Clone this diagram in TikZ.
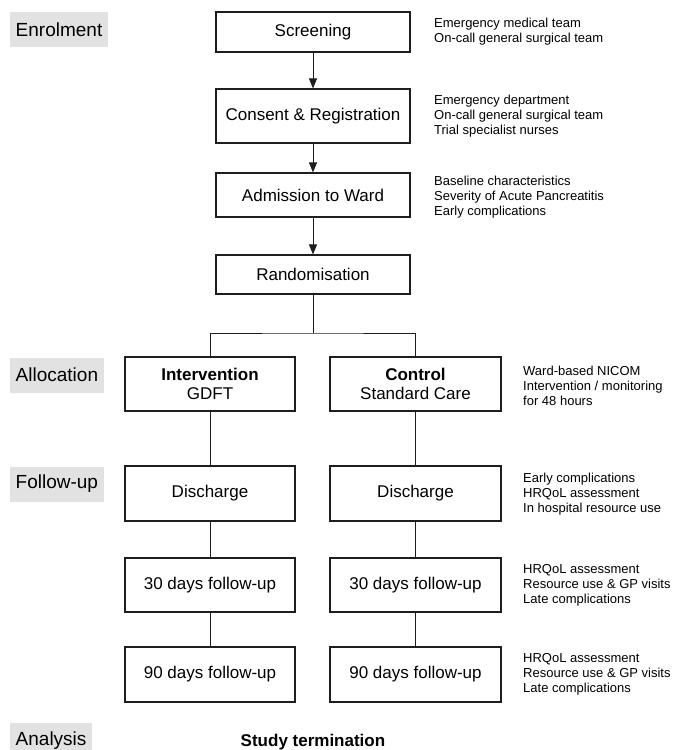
\documentclass[tikz,border=0pt]{standalone}
\usepackage{fontspec}
\setmainfont{Liberation Sans}
\usetikzlibrary{arrows.meta}
\definecolor{labelgray}{RGB}{226,226,226}
\definecolor{linecol}{RGB}{30,30,30}
\begin{document}
\begin{tikzpicture}[x=1pt,y=-1pt,
  box/.style={draw=linecol, line width=1.1pt, inner sep=0pt, align=center,
    font=\fontsize{17}{19}\selectfont},
  side/.style={anchor=west, align=left, inner sep=0pt,
    font=\fontsize{13}{15}\selectfont},
  stage/.style={anchor=west, fill=labelgray, inner xsep=6pt, inner ysep=0pt,
    minimum height=35pt, font=\fontsize{19}{21}\selectfont},
  link/.style={draw=linecol, line width=0.9pt},
  arr/.style={link, -{Triangle[length=10pt,width=8pt]}}]
\path[use as bounding box, clip] (0,0) rectangle (673,750);

% stage labels
\node[stage] (enr) at (9.5,29.5) {Enrolment};
\node[stage] (alo) at (9.5,375) {Allocation};
\node[stage] (fol) at (9.5,484) {Follow-up};
\node[stage] (ana) at (9.5,740.5) {Analysis};

% main column
\node[box, minimum width=194pt, minimum height=40pt] (scr) at (313,32) {Screening};
\node[box, minimum width=194pt, minimum height=54pt] (con) at (313,116) {Consent \& Registration};
\node[box, minimum width=194pt, minimum height=44pt] (adm) at (313,195) {Admission to Ward};
\node[box, minimum width=194pt, minimum height=39pt] (ran) at (313,274.5) {Randomisation};

% arms
\node[box, minimum width=170pt, minimum height=54pt] (int) at (210,384) {\textbf{Intervention}\\GDFT};
\node[box, minimum width=171pt, minimum height=54pt] (ctl) at (415.5,384) {\textbf{Control}\\Standard Care};
\node[box, minimum width=170pt, minimum height=55pt] (dis1) at (210,493.5) {Discharge};
\node[box, minimum width=171pt, minimum height=55pt] (dis2) at (415.5,493.5) {Discharge};
\node[box, minimum width=170pt, minimum height=54pt] (th1) at (210,585) {30 days follow-up};
\node[box, minimum width=171pt, minimum height=54pt] (th2) at (415.5,585) {30 days follow-up};
\node[box, minimum width=170pt, minimum height=55pt] (ni1) at (210,674.5) {90 days follow-up};
\node[box, minimum width=171pt, minimum height=55pt] (ni2) at (415.5,674.5) {90 days follow-up};

\node[font=\fontsize{17}{19}\selectfont\bfseries, inner sep=0pt] (end) at (313,742) {Study termination};

% side notes
\node[side] (n1) at (434,32) {Emergency medical team\\On-call general surgical team};
\node[side] (n2) at (434,116) {Emergency department\\On-call general surgical team\\Trial specialist nurses};
\node[side] (n3) at (434,197) {Baseline characteristics\\Severity of Acute Pancreatitis\\Early complications};
\node[side] (n4) at (523,385.5) {Ward-based NICOM\\Intervention / monitoring\\for 48 hours};
\node[side] (n5) at (523,494) {Early complications\\HRQoL assessment\\In hospital resource use};
\node[side] (n6) at (523,585.5) {HRQoL assessment\\Resource use \& GP visits\\Late complications};
\node[side] (n7) at (523,674.5) {HRQoL assessment\\Resource use \& GP visits\\Late complications};

% connectors
\draw[arr] (scr.south) -- (con.north);
\draw[arr] (con.south) -- (adm.north);
\draw[arr] (adm.south) -- (ran.north);
\coordinate (split) at (313,333);
\draw[link] (ran.south) -- (split);
\draw[link] (int.north) |- (split) -| (ctl.north);
\draw[link] (int.south) -- (dis1.north);
\draw[link] (ctl.south) -- (dis2.north);
\draw[link] (dis1.south) -- (th1.north);
\draw[link] (dis2.south) -- (th2.north);
\draw[link] (th1.south) -- (ni1.north);
\draw[link] (th2.south) -- (ni2.north);
\end{tikzpicture}
\end{document}
